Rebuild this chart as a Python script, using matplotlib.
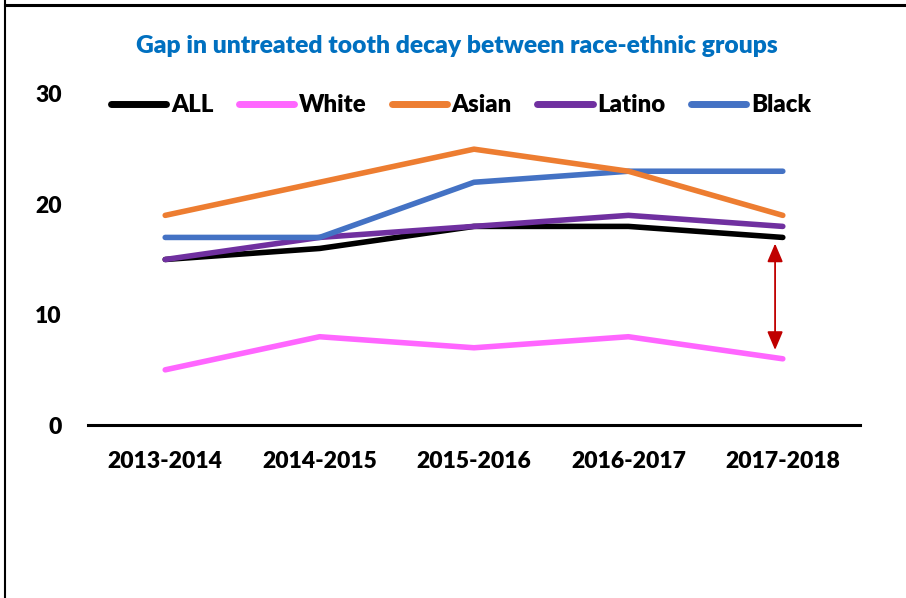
import matplotlib
matplotlib.use("Agg")
import matplotlib.pyplot as plt
from matplotlib.lines import Line2D

years = ["2013-2014", "2014-2015", "2015-2016", "2016-2017", "2017-2018"]
all_vals = [15, 16, 18, 18, 17]
white_vals = [5, 8, 7, 8, 6]
asian_vals = [19, 22, 25, 23, 19]
latino_vals = [15, 17, 18, 19, 18]
black_vals = [17, 17, 22, 23, 23]
yticks = [0, 10, 20, 30]
title = "Gap in untreated tooth decay between race-ethnic groups"

series = [
    ("ALL", all_vals, "#000000"),
    ("White", white_vals, "#FF66FF"),
    ("Asian", asian_vals, "#ED7D31"),
    ("Latino", latino_vals, "#7030A0"),
    ("Black", black_vals, "#4472C4"),
]

plt.rcParams['font.family'] = ['Lato', 'DejaVu Sans']
WEIGHT = 'heavy'

fig = plt.figure(figsize=(9.06, 5.98), dpi=100)
W, H = 906, 598
ax = fig.add_axes([88 / W, 1 - 425 / H, (860 - 88) / W, (425 - 94) / H])

x = list(range(len(years)))
lookup = {n: (v, c) for n, v, c in series}
for name in ["ALL", "White", "Latino", "Black", "Asian"]:
    v, c = lookup[name]
    ax.plot(x, v, color=c, lw=4.0, solid_capstyle='round', solid_joinstyle='round', zorder=3)

ax.set_xlim(-0.5, 4.5)
ax.set_ylim(0, 30)
ax.set_yticks(yticks)
ax.set_yticklabels([str(t) for t in yticks], fontsize=16.5, fontweight=WEIGHT)
ax.set_xticks(x)
ax.set_xticklabels(years, fontsize=16.5, fontweight=WEIGHT)
ax.tick_params(axis='both', length=0)
ax.tick_params(axis='y', pad=19)
ax.tick_params(axis='x', pad=19)
for s in ['left', 'right', 'top']:
    ax.spines[s].set_visible(False)
ax.spines['bottom'].set_linewidth(2.2)
ax.spines['bottom'].set_color('black')

# Gap arrow between ALL and White in the last period
ax.annotate("", xy=(3.95, 16.45), xytext=(3.95, 6.8),
            arrowprops=dict(arrowstyle='<|-|>,head_length=0.4,head_width=0.17', color='#C00000', lw=1.3,
                            mutation_scale=28, shrinkA=0, shrinkB=0))

handles = [Line2D([0], [0], color=c, lw=5, solid_capstyle='round') for n, v, c in series]
leg = ax.legend(handles, [n for n, v, c in series], loc='center', bbox_to_anchor=(0.483, 0.967),
                ncol=5, frameon=False, handlelength=2.3, handletextpad=0.2, columnspacing=1.05,
                prop={'size': 17.3, 'weight': WEIGHT})

fig.text(457 / W, 1 - 46 / H, title, ha='center', va='center', color='#0070C0',
         fontsize=17.7, fontweight=WEIGHT)

# Frame lines (top and left)
fig.add_artist(Line2D([5 / W, 1], [1 - 5 / H, 1 - 5 / H], color='black', lw=2.2, transform=fig.transFigure))
fig.add_artist(Line2D([5 / W, 5 / W], [0, 1], color='black', lw=1.5, transform=fig.transFigure))

fig.savefig("out.png", dpi=100)
